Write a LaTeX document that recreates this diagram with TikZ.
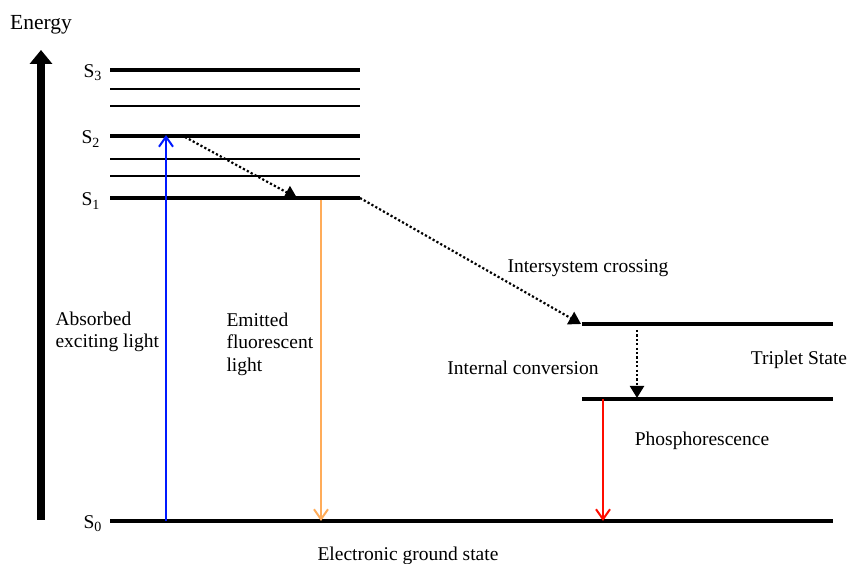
\documentclass[tikz,border=0pt]{standalone}
\usepackage{fontspec}
\setmainfont{Liberation Serif}
\usetikzlibrary{arrows.meta}

\newcommand{\lvl}[1]{S\raisebox{-0.35ex}{\fontsize{14}{14}\selectfont #1}}

\begin{document}
\begin{tikzpicture}[x=1pt,y=1pt,
    every node/.style={font=\fontsize{19.5}{22.5}\selectfont},
    level/.style={line width=3.6pt},
    sublevel/.style={line width=1.5pt},
    transfer/.style={line width=2.2pt,dash pattern=on 2.2pt off 2.2pt,-{Triangle[length=12pt,width=14pt]}},
    emission/.style={line width=2.4pt,-{Straight Barb[length=10pt,width=14pt,line width=2pt]}}]

      \useasboundingbox (0,0) rectangle (848,564);

      % energy axis
      \node[font=\fontsize{21.5}{24}\selectfont] (energy) at (41,539) {Energy};
      \coordinate (ebot) at (41,44);
      \coordinate (etop) at (41,514);
      \draw[line width=8pt,-{Triangle[length=14pt,width=22pt]}] (ebot) -- (etop);

      % singlet levels
      \begin{scope}[every node/.style={font=\fontsize{19.5}{22.5}\selectfont,anchor=east}]
        \node (s3) at (105,491) {\lvl{3}};
        \node (s2) at (103,425) {\lvl{2}};
        \node (s1) at (103,363) {\lvl{1}};
        \node (s0) at (105,40)  {\lvl{0}};
      \end{scope}

      \coordinate (s3l) at (110,494);  \coordinate (s3r) at (360,494);
      \coordinate (s2l) at (110,428);  \coordinate (s2r) at (360,428);
      \coordinate (s1l) at (110,366);  \coordinate (s1r) at (360,366);
      \coordinate (s0l) at (110,43);   \coordinate (s0r) at (833,43);
      \coordinate (t1l) at (582,240);  \coordinate (t1r) at (833,240);
      \coordinate (t2l) at (582,165);  \coordinate (t2r) at (833,165);

      \draw[level] (s3l) -- (s3r);
      \draw[level] (s2l) -- (s2r);
      \draw[level] (s1l) -- (s1r);
      \draw[level] (s0l) -- (s0r);
      \draw[level] (t1l) -- (t1r);
      \draw[level] (t2l) -- (t2r);

      \foreach \y in {475,458,405,388}
        \draw[sublevel] (110,\y) -- (360,\y);

      % transitions
      \coordinate (abs0) at (166,43);   \coordinate (abs1) at (166,429);
      \coordinate (fl0)  at (321,364);  \coordinate (fl1)  at (321,43);
      \coordinate (ic0)  at (185,427);  \coordinate (ic1)  at (297,366);
      \coordinate (isc1) at (581,240);
      \coordinate (tc0)  at (637,234);  \coordinate (tc1)  at (637,166);
      \coordinate (ph0)  at (603,165);  \coordinate (ph1)  at (603,43);

      \draw[emission,blue!90!cyan] (abs0) -- (abs1);
      \draw[emission,orange!65!white] (fl0) -- (fl1);
      \draw[emission,red!90!orange] (ph0) -- (ph1);
      \draw[transfer] (ic0) -- (ic1);
      \draw[transfer] (s1r) -- (isc1);
      \draw[transfer] (tc0) -- (tc1);

      % labels
      \node (isc) at (588,296) {Intersystem crossing};
      \node[align=left,anchor=west] (absl) at (52,232) {Absorbed\\exciting light};
      \node[align=left,anchor=west] (flul) at (223,220) {Emitted\\fluorescent\\light};
      \node (icl) at (523,196) {Internal conversion};
      \node (trip) at (799,204) {Triplet State};
      \node (phos) at (702,123) {Phosphorescence};
      \node (ground) at (408,8) {Electronic ground state};

    \end{tikzpicture}
\end{document}
